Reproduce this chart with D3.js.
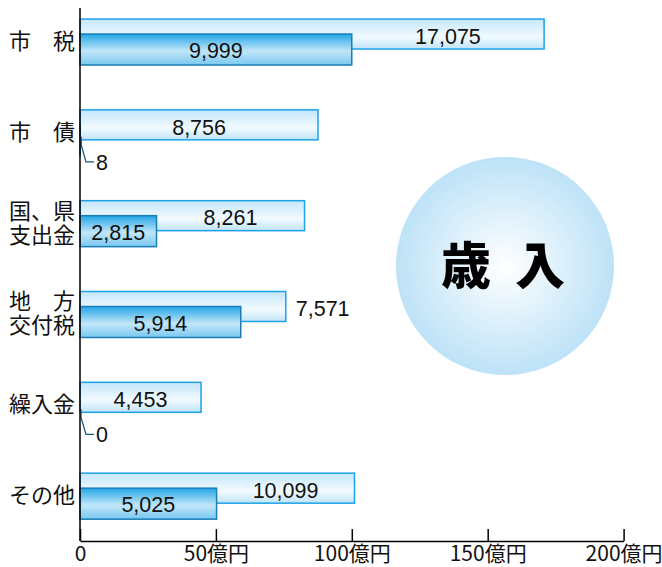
<!DOCTYPE html>
<html><head><meta charset="utf-8">
<script src="https://cdn.jsdelivr.net/npm/d3@7"></script>
<style>
html,body{margin:0;padding:0;background:#fff;}
svg{display:block;}
</style></head>
<body><svg id="c" width="662" height="567"></svg>
<script>
// Data (単位: 百万円)
const categories = [["市　税"], ["市　債"], ["国、県", "支出金"], ["地　方", "交付税"], ["繰入金"], ["その他"]];
const upperValues = [17075, 8756, 8261, 7571, 4453, 10099];
const lowerValues = [9999, 8, 2815, 5914, 0, 5025];
const tickValues = [0, 5000, 10000, 15000, 20000];
const tickLabels = ["0", "50億円", "100億円", "150億円", "200億円"];
const titleText = "歳入";

const svg = d3.select("#c");
const fmt = d3.format(",");
const x = d3.scaleLinear().domain([0, 20000]).range([80, 623.6]);
const y = d3.scaleBand().domain(d3.range(categories.length)).range([19, 564]).paddingInner(0).paddingOuter(0);
const x0 = x(0);
const upperH = 30, lowerOff = 15, lowerH = 31;

const defs = svg.append("defs");
const g1 = defs.append("linearGradient").attr("id", "gUp").attr("x1", 0).attr("y1", 0).attr("x2", 0).attr("y2", 1);
g1.append("stop").attr("offset", "0%").attr("stop-color", "#c4e6f9");
g1.append("stop").attr("offset", "60%").attr("stop-color", "#f2faff");
g1.append("stop").attr("offset", "100%").attr("stop-color", "#c0e4f8");
const g2 = defs.append("linearGradient").attr("id", "gLo").attr("x1", 0).attr("y1", 0).attr("x2", 0).attr("y2", 1);
g2.append("stop").attr("offset", "0%").attr("stop-color", "#22a6e8");
g2.append("stop").attr("offset", "55%").attr("stop-color", "#c2e6f8");
g2.append("stop").attr("offset", "100%").attr("stop-color", "#78c8f0");
const rg = defs.append("radialGradient").attr("id", "gCirc").attr("cx", "50%").attr("cy", "50%").attr("r", "50%");
rg.append("stop").attr("offset", "0%").attr("stop-color", "#ffffff");
rg.append("stop").attr("offset", "100%").attr("stop-color", "#bde2f7");

// Circle
svg.append("circle").attr("cx", 505).attr("cy", 266).attr("r", 109).attr("fill", "url(#gCirc)");
svg.append("text").attr("x", 441).attr("y", 266).attr("dy", "0.36em")
  .attr("font-family", "'Noto Sans CJK JP'").attr("font-weight", 900).attr("font-size", 50)
  .attr("letter-spacing", 24).attr("fill", "#000").text(titleText);

// Bars
const groups = svg.append("g").selectAll("g").data(categories).join("g")
  .attr("transform", (d, i) => `translate(0,${y(i)})`);

groups.append("rect").attr("x", x0).attr("y", 0)
  .attr("width", (d, i) => x(upperValues[i]) - x0).attr("height", upperH)
  .attr("fill", "url(#gUp)").attr("stroke", "#1da2e6").attr("stroke-width", 1.5);

groups.append("rect").attr("x", x0).attr("y", lowerOff)
  .attr("width", (d, i) => Math.max(x(lowerValues[i]) - x0, 0)).attr("height", lowerH)
  .attr("fill", "url(#gLo)").attr("stroke", "#1a7db5").attr("stroke-width", 1.5)
  .attr("display", (d, i) => lowerValues[i] > 0 ? null : "none");

const numFont = "'Liberation Sans', Arial, sans-serif";
// Upper labels
groups.append("text")
  .attr("x", (d, i) => {
    const a = x(lowerValues[i]), b = x(upperValues[i]);
    return (b - a) > 80 ? (a + b) / 2 : b + 10;
  })
  .attr("text-anchor", (d, i) => (x(upperValues[i]) - x(lowerValues[i])) > 80 ? "middle" : "start")
  .attr("y", upperH / 2 + 2).attr("dy", "0.36em")
  .attr("font-family", numFont).attr("font-size", 21.5).attr("fill", "#111")
  .text((d, i) => fmt(upperValues[i]));

// Lower labels
groups.append("text")
  .attr("x", (d, i) => lowerValues[i] > 1000 ? (x0 + x(lowerValues[i])) / 2 : x0 + 16)
  .attr("text-anchor", (d, i) => lowerValues[i] > 1000 ? "middle" : "start")
  .attr("y", (d, i) => lowerValues[i] > 1000 ? lowerOff + lowerH / 2 + 1 : lowerOff + 37)
  .attr("dy", "0.36em")
  .attr("font-family", numFont).attr("font-size", 21.5).attr("fill", "#111")
  .text((d, i) => fmt(lowerValues[i]));

// Leader lines for tiny values
groups.filter((d, i) => lowerValues[i] <= 1000).append("path")
  .attr("d", (d) => {
    const i2 = categories.indexOf(d);
    const xv = x(lowerValues[i2]) + 1;
    return `M${xv},${lowerOff + 12}L${xv},${lowerOff + 20}L${x0 + 6},${lowerOff + 37}L${x0 + 14},${lowerOff + 37}`;
  })
  .attr("fill", "none").attr("stroke", "#1a5a80").attr("stroke-width", 1.3);

// Category labels
groups.append("text")
  .attr("font-family", "'Noto Sans CJK JP'").attr("font-size", 22).attr("fill", "#111")
  .attr("text-anchor", "end")
  .each(function(d) {
    const t = d3.select(this);
    const n = d.length;
    d.forEach((line, k) => {
      t.append("tspan").attr("x", 75)
        .attr("y", 22 + (k - (n - 1) / 2) * 24).attr("dy", "0.36em").text(line);
    });
  });

// Axes
svg.append("line").attr("x1", x0).attr("x2", x0).attr("y1", 8).attr("y2", 541)
  .attr("stroke", "#000").attr("stroke-width", 1.5);

const axis = d3.axisBottom(x).tickValues(tickValues).tickSize(-12).tickSizeOuter(0)
  .tickPadding(5).tickFormat((d, i) => tickLabels[i]);
const ax = svg.append("g").attr("transform", "translate(0,541)").call(axis);
ax.select(".domain").attr("stroke", "#000").attr("stroke-width", 1.5);
ax.selectAll(".tick line").attr("stroke", "#000").attr("stroke-width", 1.5);
ax.selectAll(".tick text").attr("font-family", "'Noto Sans CJK JP'").attr("font-size", 21).attr("fill", "#111");
</script></body></html>
